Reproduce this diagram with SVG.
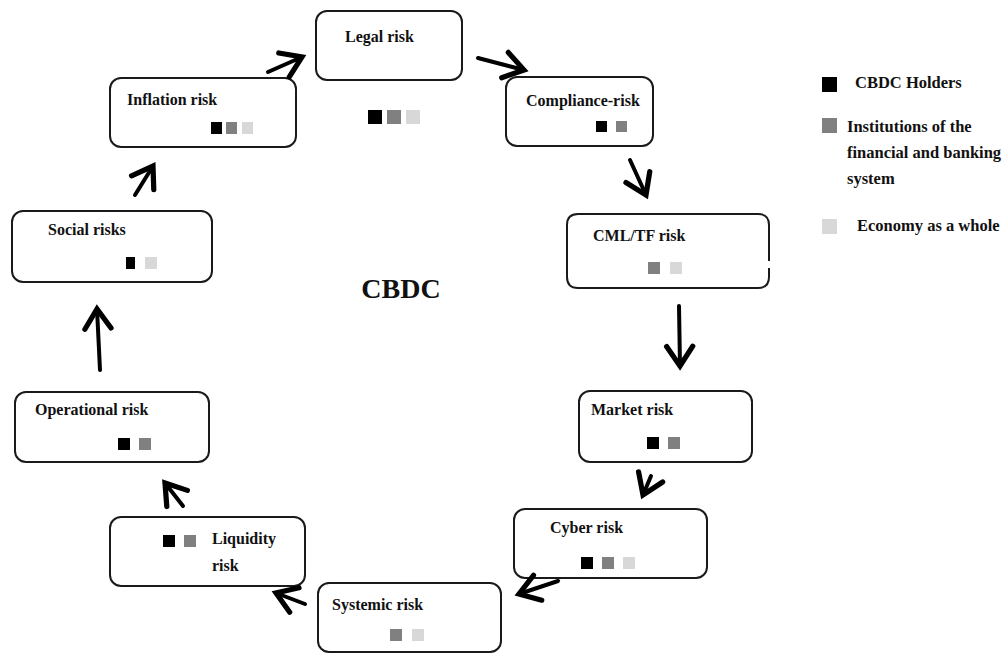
<svg xmlns="http://www.w3.org/2000/svg" width="1003" height="653" viewBox="0 0 1003 653">
<style>
.box{fill:#fff;stroke:#1a1a1a;stroke-width:2}
.t{font-family:"Liberation Serif",serif;font-weight:bold;font-size:16px;fill:#111}
.lg{font-family:"Liberation Serif",serif;font-weight:bold;font-size:16.5px;fill:#111}
.k{fill:#000}.g{fill:#808080}.l{fill:#d8d8d8}
.arr{fill:none;stroke:#000;stroke-width:4;stroke-linecap:round;marker-end:url(#ah)}
</style>
<defs>
<marker id="ah" markerUnits="userSpaceOnUse" markerWidth="34" markerHeight="34" viewBox="-18 -13 22 26" refX="0" refY="0" orient="auto">
<path d="M-15,-10 L0,0 L-15,10" fill="none" stroke="#000" stroke-width="4" stroke-linecap="round" stroke-linejoin="miter"/>
</marker>
</defs>
<rect width="1003" height="653" fill="#fff"/>

<g id="legal">
<rect class="box" x="316" y="11" width="146" height="69" rx="11"/>
<text class="t" x="345" y="42">Legal risk</text>
<rect class="k" x="368" y="110" width="14" height="14"/><rect class="g" x="387" y="110" width="14" height="14"/><rect class="l" x="406" y="110" width="14" height="14"/>
</g>
<g id="compliance">
<rect class="box" x="506" y="77" width="147" height="69" rx="11"/>
<text class="t" x="526" y="106">Compliance-risk</text>
<rect class="k" x="596" y="121" width="11" height="11"/><rect class="g" x="616" y="121" width="11" height="11"/>
</g>
<g id="cml">
<path class="box" d="M769,261 V225 Q769,214 758,214 H578 Q567,214 567,225 V277 Q567,288 578,288 H758 Q769,288 769,277 V268"/>
<text class="t" x="593" y="241">CML/TF risk</text>
<rect class="g" x="648" y="262" width="12" height="12"/><rect class="l" x="670" y="262" width="12" height="12"/>
</g>
<g id="market">
<rect class="box" x="579" y="391" width="173" height="71" rx="11"/>
<text class="t" x="591" y="415">Market risk</text>
<rect class="k" x="647" y="437" width="12" height="12"/><rect class="g" x="668" y="437" width="12" height="12"/>
</g>
<g id="cyber">
<rect class="box" x="514" y="509" width="193" height="69" rx="11"/>
<text class="t" x="550" y="533">Cyber risk</text>
<rect class="k" x="581" y="557" width="12" height="12"/><rect class="g" x="602" y="557" width="12" height="12"/><rect class="l" x="623" y="557" width="12" height="12"/>
</g>
<g id="systemic">
<rect class="box" x="318" y="583" width="183" height="69" rx="11"/>
<text class="t" x="332" y="610">Systemic risk</text>
<rect class="g" x="390" y="629" width="12" height="12"/><rect class="l" x="412" y="629" width="12" height="12"/>
</g>
<g id="liquidity">
<rect class="box" x="110" y="517" width="195" height="69" rx="11"/>
<rect class="k" x="163" y="535" width="12" height="12"/><rect class="g" x="184" y="535" width="12" height="12"/>
<text class="t" x="212" y="544">Liquidity</text>
<text class="t" x="212" y="571">risk</text>
</g>
<g id="operational">
<rect class="box" x="15" y="392" width="194" height="70" rx="11"/>
<text class="t" x="35" y="415">Operational risk</text>
<rect class="k" x="118" y="438" width="12" height="12"/><rect class="g" x="139" y="438" width="12" height="12"/>
</g>
<g id="social">
<rect class="box" x="12" y="211" width="200" height="71" rx="11"/>
<text class="t" x="48" y="235">Social risks</text>
<rect class="k" x="126" y="257" width="9" height="12"/><rect class="l" x="145" y="257" width="12" height="12"/>
</g>
<g id="inflation">
<rect class="box" x="110" y="78" width="186" height="69" rx="11"/>
<text class="t" x="127" y="105">Inflation risk</text>
<rect class="k" x="211" y="122" width="11" height="12"/><rect class="g" x="226" y="122" width="11" height="12"/><rect class="l" x="242" y="122" width="11" height="12"/>
</g>

<g id="center">
<text x="401" y="298" text-anchor="middle" font-family="Liberation Serif,serif" font-weight="bold" font-size="28" fill="#111">CBDC</text>
</g>

<g id="legend">
<rect class="k" x="822" y="77" width="15" height="15"/>
<text class="lg" x="855" y="88">CBDC Holders</text>
<rect class="g" x="822" y="118" width="15" height="15"/>
<text class="lg" x="847" y="132">Institutions of the</text>
<text class="lg" x="847" y="158">financial and banking</text>
<text class="lg" x="847" y="184">system</text>
<rect class="l" x="822" y="219" width="15" height="15"/>
<text class="lg" x="857" y="231">Economy as a whole</text>
</g>

<g id="connectors">
<path class="arr" d="M268,72 L302,57"/>
<path class="arr" d="M478,58 L524,70"/>
<path class="arr" d="M630,160 L646,195"/>
<path class="arr" d="M679,306 L680,366"/>
<path class="arr" d="M651,476 L643,495"/>
<path class="arr" d="M558,581 L519,594"/>
<path class="arr" d="M305,604 L276,593"/>
<path class="arr" d="M183,506 L165,483"/>
<path class="arr" d="M100,370 L97,309"/>
<path class="arr" d="M135,195 L153,166"/>
</g>
</svg>
